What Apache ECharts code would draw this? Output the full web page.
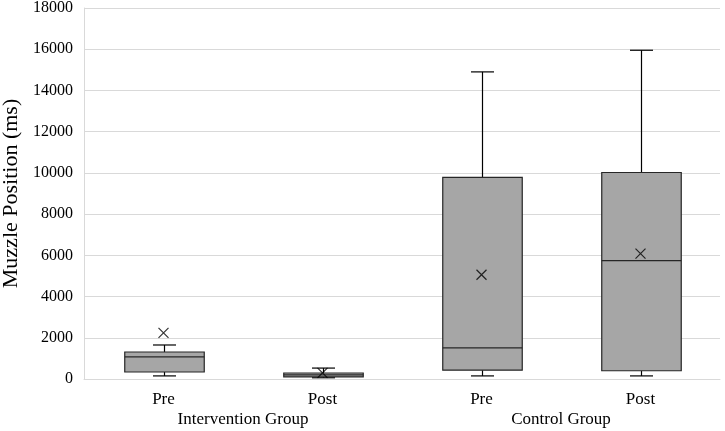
<!DOCTYPE html>
<html><head><meta charset="utf-8">
<script src="https://cdn.jsdelivr.net/npm/echarts@6/dist/echarts.min.js"></script>
<style>html,body{margin:0;padding:0;background:#fff}#c{width:725px;height:431px}</style>
</head><body><div id="c"></div>
<script>
const categories = ['Pre', 'Post', 'Pre', 'Post'];
const groups = ['Intervention Group', 'Control Group'];
// [min, Q1, median, Q3, max]
const boxValues = [
  [150, 340, 1070, 1310, 1650],
  [60, 100, 200, 290, 530],
  [150, 430, 1510, 9780, 14900],
  [150, 400, 5740, 10020, 15950]
];
const means = [2240, 300, 5060, 6080];
const yTicks = [0, 2000, 4000, 6000, 8000, 10000, 12000, 14000, 16000, 18000];

const font = '"Liberation Serif", "Times New Roman", serif';
const chart = echarts.init(document.getElementById('c'));
const xPath = 'path://M0,0 L10,10 M10,0 L0,10';

chart.setOption({
  animation: false,
  grid: { left: 84, right: 5, top: 8, bottom: 52, containLabel: false, outerBoundsMode: 'none' },
  xAxis: [
    {
      type: 'category', data: categories, position: 'bottom',
      axisLine: { lineStyle: { color: '#d9d9d9', width: 1 } },
      axisTick: { show: false },
      axisLabel: { fontFamily: font, fontSize: 17, color: '#000', margin: 12 }
    },
    {
      type: 'category', data: groups, position: 'bottom', offset: 20,
      axisLine: { show: false }, axisTick: { show: false },
      axisLabel: { fontFamily: font, fontSize: 17, color: '#000', margin: 12 }
    }
  ],
  yAxis: {
    type: 'value', min: yTicks[0], max: yTicks[yTicks.length - 1], interval: 2000,
    name: 'Muzzle Position (ms)', nameLocation: 'middle', nameGap: 61,
    nameTextStyle: { fontFamily: font, fontSize: 22, color: '#000' },
    axisLine: { show: true, lineStyle: { color: '#d9d9d9' } },
    axisTick: { show: false },
    axisLabel: { fontFamily: font, fontSize: 16, color: '#000', margin: 11,
      formatter: function (v) { return String(v); } },
    splitLine: { lineStyle: { color: '#d9d9d9', width: 1 } }
  },
  series: [
    {
      type: 'custom', xAxisIndex: 0,
      data: boxValues.map((v, i) => [i].concat(v)),
      encode: { x: 0, y: [1, 2, 3, 4, 5] },
      renderItem: function (params, api) {
        const i = api.value(0);
        const band = api.size([1, 0])[0];
        const bw = band * 0.5, cw = band * 0.145;
        const pMin = api.coord([i, api.value(1)]);
        const pQ1 = api.coord([i, api.value(2)]);
        const pMed = api.coord([i, api.value(3)]);
        const pQ3 = api.coord([i, api.value(4)]);
        const pMax = api.coord([i, api.value(5)]);
        const cx = Math.round(pMin[0]) + 0.5;
        const ln = { stroke: '#000', lineWidth: 1.2 };
        return {
          type: 'group',
          children: [
            { type: 'line', shape: { x1: cx, y1: pQ3[1], x2: cx, y2: pMax[1] }, style: ln },
            { type: 'line', shape: { x1: cx, y1: pQ1[1], x2: cx, y2: pMin[1] }, style: ln },
            { type: 'line', shape: { x1: cx - cw / 2, y1: pMax[1], x2: cx + cw / 2, y2: pMax[1] }, style: ln },
            { type: 'line', shape: { x1: cx - cw / 2, y1: pMin[1], x2: cx + cw / 2, y2: pMin[1] }, style: ln },
            { type: 'rect', shape: { x: cx - bw / 2, y: pQ3[1], width: bw, height: pQ1[1] - pQ3[1] },
              style: { fill: '#a6a6a6', stroke: '#262626', lineWidth: 1.2 } },
            { type: 'line', shape: { x1: cx - bw / 2, y1: pMed[1], x2: cx + bw / 2, y2: pMed[1] },
              style: { stroke: '#262626', lineWidth: 1.3 } }
          ]
        };
      },
      z: 2
    },
    {
      type: 'scatter', xAxisIndex: 0,
      data: means.map((m, i) => [i, m]),
      symbol: xPath, symbolSize: 10,
      itemStyle: { color: 'none', borderColor: '#000', borderWidth: 1.2 },
      z: 3
    }
  ]
});
</script></body></html>
